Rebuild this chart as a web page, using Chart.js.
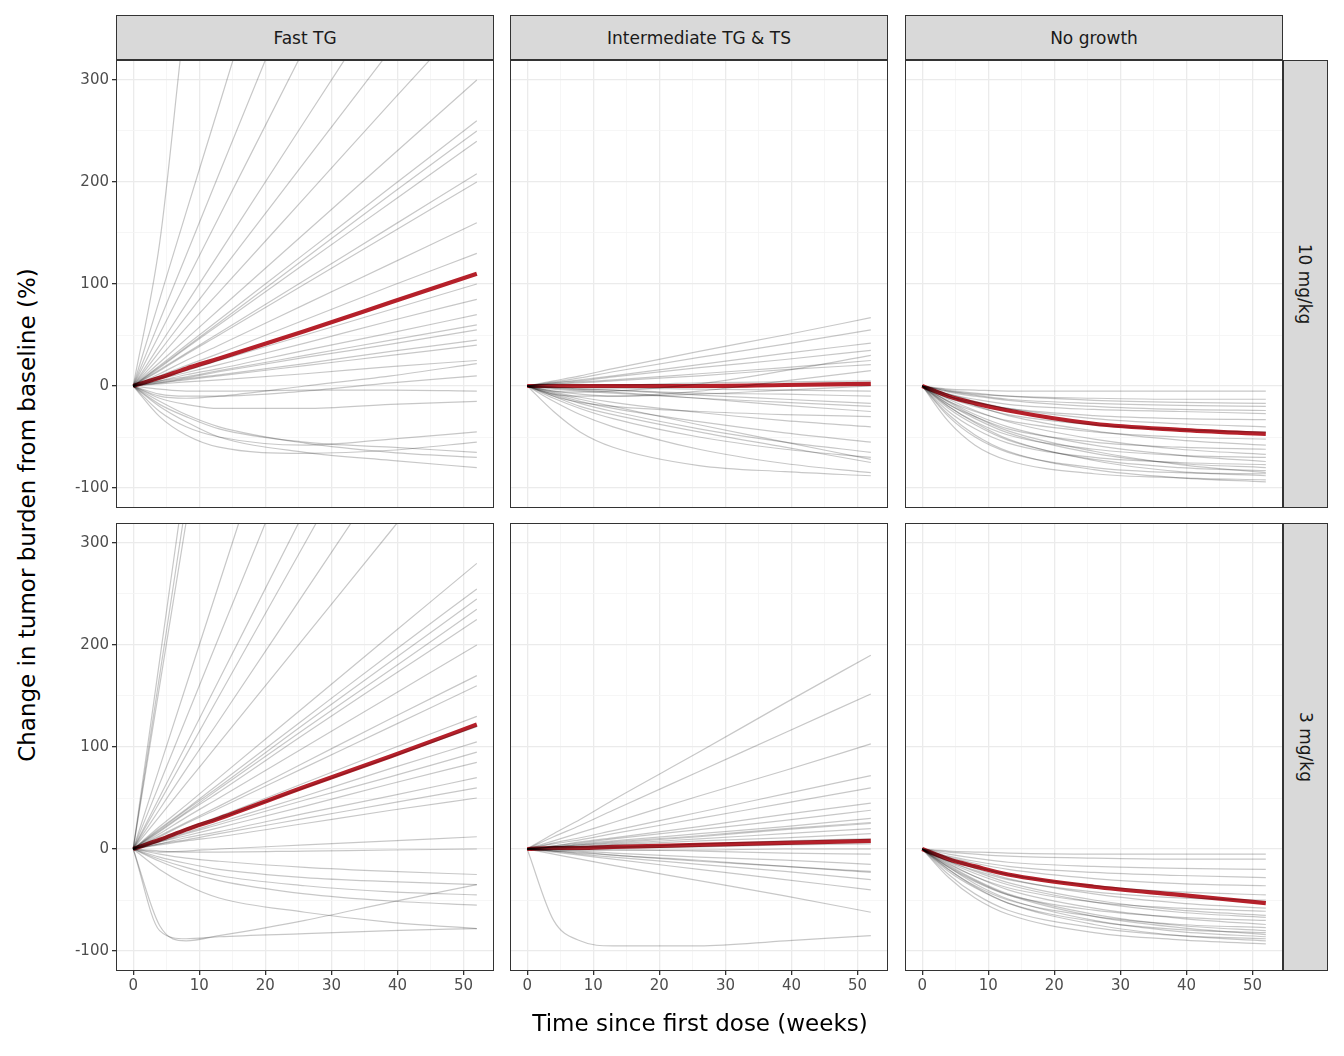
<!DOCTYPE html>
<html><head><meta charset="utf-8">
<script src="https://cdn.jsdelivr.net/npm/chart.js@4/dist/chart.umd.min.js"></script>
<style>
body{margin:0;background:#fff;font-family:"DejaVu Sans",sans-serif;}
#wrap{position:relative;width:1344px;height:1056px;}
canvas{position:absolute;}
.strip{position:absolute;box-sizing:border-box;background:#d9d9d9;border:1px solid #333;color:#1a1a1a;font-size:17px;display:flex;align-items:center;justify-content:center;}
.strip.r span{transform:rotate(90deg);white-space:nowrap;}
.title{position:absolute;font-size:23px;color:#000;white-space:nowrap;}
</style></head><body><div id="wrap"></div>
<script>
// weeks at which each curve is sampled
const weeks = [0, 4, 8, 13, 26, 39, 52];

const colLabels = ['Fast TG', 'Intermediate TG & TS', 'No growth'];
const rowLabels = ['10 mg/kg', '3 mg/kg'];

/* ---------- 10 mg/kg ---------- */
const fast10 = [
  [0,140,370,600,1200,1800,2400],[0,85,170,275,550,825,1100],[0,64,128,208,415,622,830],
  [0,51,102,166,332,500,665],[0,40,80,130,260,390,520],[0,34,68,110,220,330,440],
  [0,28,57,92,185,278,370],[0,23,46,75,150,225,300],[0,20,40,65,130,195,260],
  [0,19,38,62,125,188,250],[0,18,37,60,120,180,240],[0,15,31,50,100,150,200],
  [0,12,25,40,80,120,160],[0,10,20,32,65,98,130],[0,8,15,25,50,75,100],
  [0,7,13,21,42,64,85],[0,5,11,17,35,52,70],[0,4,8,14,28,41,55],
  [0,3,6,10,20,30,40],[0,2,4,6,12,19,25],[0,-10,-12,-10,0,10,22],
  [0,-3,-5,-5,-4,-4,-5],[0,-12,-18,-22,-22,-18,-15],[0,-25,-40,-50,-58,-52,-45],
  [0,-30,-48,-60,-66,-63,-55],[0,-15,-28,-40,-56,-65,-70],[0,-20,-35,-50,-65,-73,-80],
  [0,-18,-30,-42,-55,-60,-65],[0,-8,-10,-10,-5,3,10],[0,16,32,52,104,156,208],
  [0,3,7,11,22,34,45],[0,5,9,15,30,45,60]
];
const fast10Mean = [0,8,17,27,54,82,110];

const inter10 = [
  [0,5,10,17,34,50,67],[0,4,8,14,28,41,55],[0,3,6,10,21,32,42],[0,3,5,9,18,26,35],
  [0,-5,-6,-5,2,15,30],[0,2,4,6,12,18,25],[0,-8,-10,-10,-5,5,15],[0,1,1,1,3,4,5],
  [0,-5,-8,-10,-8,-4,0],[0,-1,-2,-2,-3,-4,-5],[0,-2,-3,-4,-7,-8,-10],[0,-3,-5,-7,-12,-16,-20],
  [0,-2,-4,-6,-12,-19,-25],[0,-10,-16,-20,-25,-28,-30],[0,-6,-11,-16,-26,-34,-40],
  [0,-8,-15,-22,-35,-46,-55],[0,-12,-22,-32,-50,-62,-70],[0,-10,-20,-28,-45,-60,-75],
  [0,-15,-28,-40,-62,-76,-85],[0,-25,-45,-60,-78,-84,-88],[0,-7,-13,-20,-38,-55,-72],
  [0,-9,-17,-25,-42,-55,-65],[0,2,3,5,10,16,21],[0,-1,-3,-4,-9,-13,-17]
];
const inter10Mean = [0,0,0,0,0,1,2];

const none10 = [
  [0,-3,-4,-5,-5,-5,-5],[0,-5,-8,-10,-12,-13,-13],[0,-5,-9,-13,-17,-19,-20],
  [0,-8,-13,-18,-23,-25,-27],[0,-10,-16,-22,-29,-32,-33],[0,-8,-15,-22,-32,-37,-40],
  [0,-12,-20,-28,-38,-43,-45],[0,-15,-25,-34,-45,-50,-52],[0,-10,-19,-29,-44,-53,-58],
  [0,-18,-30,-42,-55,-60,-62],[0,-13,-24,-35,-52,-62,-67],[0,-20,-35,-48,-62,-68,-70],
  [0,-15,-28,-40,-58,-68,-74],[0,-25,-42,-56,-70,-75,-77],[0,-18,-32,-46,-66,-76,-80],
  [0,-22,-38,-53,-72,-80,-83],[0,-30,-50,-65,-80,-85,-86],[0,-20,-36,-52,-73,-84,-88],
  [0,-35,-58,-73,-86,-90,-92],[0,-28,-48,-64,-82,-90,-94],[0,-16,-30,-44,-64,-77,-85],
  [0,-6,-10,-14,-20,-23,-24],[0,-4,-7,-10,-14,-16,-17]
];
const none10Mean = [0,-10,-17,-24,-37,-43,-47];

/* ---------- 3 mg/kg ---------- */
const fast3 = [
  [0,185,370,600,1200,1800,2400],[0,170,340,560,1100,1650,2200],[0,160,320,520,1040,1560,2080],
  [0,80,160,260,520,780,1040],[0,64,128,208,415,622,830],[0,51,102,166,332,500,665],
  [0,46,92,150,300,450,600],[0,39,78,126,252,378,505],[0,32,64,104,208,312,416],
  [0,22,43,70,140,210,280],[0,20,39,64,128,192,255],[0,19,38,61,123,184,245],
  [0,18,36,59,118,176,235],[0,17,35,56,113,169,225],[0,15,31,50,100,150,200],
  [0,13,26,42,85,128,170],[0,12,25,40,80,120,160],[0,10,20,32,65,98,130],
  [0,9,18,30,60,90,120],[0,8,16,26,52,79,105],[0,7,15,24,48,71,95],
  [0,7,13,21,42,64,85],[0,5,11,17,35,52,70],[0,5,9,15,30,45,60],
  [0,4,8,12,25,38,50],[0,-3,-2,0,4,8,12],[0,-75,-90,-85,-70,-52,-35],
  [0,-80,-88,-86,-83,-80,-78],[0,-5,-9,-12,-18,-22,-25],[0,-8,-14,-20,-28,-32,-35],
  [0,-10,-18,-26,-36,-42,-45],[0,-12,-22,-31,-44,-51,-55],[0,-2,-3,-3,-2,-1,0],
  [0,-20,-35,-48,-62,-72,-78]
];
const fast3Mean = [0,9,19,30,61,91,122];

const inter3 = [
  [0,15,29,48,95,143,190],[0,12,23,38,76,114,152],[0,8,16,26,52,77,103],
  [0,6,11,18,36,54,72],[0,5,9,15,30,45,60],[0,3,7,11,22,34,45],[0,3,6,10,19,28,38],
  [0,2,5,8,15,22,30],[0,2,4,6,12,19,25],[0,2,3,5,10,15,20],[0,1,2,4,8,11,15],
  [0,1,2,2,5,8,10],[0,0,1,1,2,4,5],[0,-1,-1,-1,-1,0,0],[0,-1,-1,-1,-2,-4,-5],
  [0,-1,-2,-4,-8,-11,-15],[0,-2,-3,-6,-11,-17,-22],[0,-2,-5,-8,-15,-22,-30],
  [0,-3,-6,-10,-20,-30,-40],[0,-5,-10,-16,-31,-46,-62],[0,-70,-90,-95,-95,-90,-85],
  [0,2,4,7,13,20,26],[0,-2,-4,-6,-12,-17,-23]
];
const inter3Mean = [0,1,1,2,4,6,8];

const none3 = [
  [0,-2,-3,-4,-5,-5,-5],[0,-3,-5,-7,-9,-10,-10],[0,-5,-9,-13,-17,-19,-20],
  [0,-7,-12,-17,-23,-26,-28],[0,-8,-14,-20,-29,-34,-36],[0,-9,-17,-25,-36,-42,-45],
  [0,-12,-21,-30,-42,-48,-50],[0,-10,-19,-29,-44,-53,-58],[0,-15,-27,-38,-52,-58,-61],
  [0,-13,-24,-35,-52,-62,-67],[0,-18,-32,-45,-60,-67,-70],[0,-14,-27,-40,-58,-68,-74],
  [0,-20,-36,-50,-66,-74,-77],[0,-16,-30,-44,-64,-75,-80],[0,-22,-38,-53,-71,-79,-82],
  [0,-18,-34,-49,-70,-81,-86],[0,-25,-44,-60,-77,-85,-88],[0,-20,-37,-53,-74,-85,-90],
  [0,-28,-48,-64,-82,-89,-93],[0,-12,-22,-33,-50,-60,-65],[0,-17,-31,-45,-66,-77,-84]
];
const none3Mean = [0,-10,-17,-25,-37,-45,-53];

const panels = [
  [fast10, fast10Mean], [inter10, inter10Mean], [none10, none10Mean],
  [fast3, fast3Mean], [inter3, inter3Mean], [none3, none3Mean]
];

const plotLeft = [116, 510, 905];
const plotTop = [60, 523];
const plotW = 378, plotH = 448;
const wrap = document.getElementById('wrap');

const toPts = arr => arr.map((v, i) => ({ x: weeks[i], y: v }));

const borderPlugin = {
  id: 'panelBorder',
  afterDraw(chart) {
    const a = chart.chartArea, c = chart.ctx;
    c.save();
    c.strokeStyle = '#333';
    c.lineWidth = 1;
    c.strokeRect(a.left + 0.5, a.top + 0.5, a.right - a.left - 1, a.bottom - a.top - 1);
    c.restore();
  }
};

panels.forEach(([lines, mean], idx) => {
  const r = Math.floor(idx / 3), col = idx % 3;
  const cv = document.createElement('canvas');
  cv.style.left = (plotLeft[col] - 60) + 'px';
  cv.style.top = plotTop[r] + 'px';
  cv.style.width = (plotW + 60) + 'px';
  cv.style.height = (plotH + 40) + 'px';
  cv.width = plotW + 60; cv.height = plotH + 40;
  wrap.appendChild(cv);

  const datasets = lines.map(l => ({
    data: toPts(l), borderColor: 'rgba(0,0,0,0.22)', borderWidth: 1.2,
    pointRadius: 0, cubicInterpolationMode: 'monotone'
  }));
  datasets.push({
    data: toPts(mean), borderColor: '#b5202a', borderWidth: 4.2,
    pointRadius: 0, cubicInterpolationMode: 'monotone'
  });

  const showX = r === 1, showY = col === 0;
  const gridColor = ctx => ctx.tick && ctx.tick.value % 10 === 0 ? '#ebebeb' : '#f4f4f4';
  const gridColorY = ctx => ctx.tick && ctx.tick.value % 100 === 0 ? '#ebebeb' : '#f4f4f4';

  new Chart(cv.getContext('2d'), {
    type: 'line',
    data: { datasets },
    options: {
      responsive: false, animation: false, devicePixelRatio: 1,
      layout: { padding: 0 },
      plugins: { legend: { display: false }, tooltip: { enabled: false } },
      scales: {
        x: {
          type: 'linear', min: -2.6, max: 54.6,
          afterFit(s) { s.height = 40; s.paddingLeft = 0; s.paddingRight = 0; },
          border: { display: false },
          grid: {
            color: gridColor, lineWidth: ctx => ctx.tick && ctx.tick.value % 10 === 0 ? 1.3 : 0.8,
            drawTicks: showX, tickLength: 4,
            tickColor: ctx => ctx.tick && ctx.tick.value % 10 === 0 ? '#333' : 'rgba(0,0,0,0)'
          },
          ticks: {
            display: showX, stepSize: 5, includeBounds: false, autoSkip: false, maxRotation: 0,
            color: '#4d4d4d', font: { family: 'DejaVu Sans', size: 15 }, padding: 2,
            callback: v => v % 10 === 0 ? v : ''
          }
        },
        y: {
          min: -119.6, max: 319.6,
          afterFit(s) { s.width = 60; s.paddingTop = 0; s.paddingBottom = 0; },
          border: { display: false },
          grid: {
            color: gridColorY, lineWidth: ctx => ctx.tick && ctx.tick.value % 100 === 0 ? 1.3 : 0.8,
            drawTicks: showY, tickLength: 4,
            tickColor: ctx => ctx.tick && ctx.tick.value % 100 === 0 ? '#333' : 'rgba(0,0,0,0)'
          },
          ticks: {
            display: showY, stepSize: 50, includeBounds: false, autoSkip: false,
            color: '#4d4d4d', font: { family: 'DejaVu Sans', size: 15 }, padding: 3,
            callback: v => v % 100 === 0 ? v : ''
          }
        }
      }
    },
    plugins: [borderPlugin]
  });
});

// facet strips
colLabels.forEach((t, c) => {
  const d = document.createElement('div');
  d.className = 'strip';
  Object.assign(d.style, { left: plotLeft[c] + 'px', top: '15px', width: plotW + 'px', height: '45px' });
  d.textContent = t;
  wrap.appendChild(d);
});
rowLabels.forEach((t, r) => {
  const d = document.createElement('div');
  d.className = 'strip r';
  Object.assign(d.style, { left: '1283px', top: plotTop[r] + 'px', width: '45px', height: plotH + 'px' });
  d.innerHTML = '<span>' + t + '</span>';
  wrap.appendChild(d);
});

const xt = document.createElement('div');
xt.className = 'title';
xt.textContent = 'Time since first dose (weeks)';
Object.assign(xt.style, { left: '700px', top: '1010px', transform: 'translateX(-50%)' });
wrap.appendChild(xt);

const yt = document.createElement('div');
yt.className = 'title';
yt.textContent = 'Change in tumor burden from baseline (%)';
Object.assign(yt.style, { left: '27px', top: '515px', transform: 'translate(-50%,-50%) rotate(-90deg)' });
wrap.appendChild(yt);
</script></body></html>
